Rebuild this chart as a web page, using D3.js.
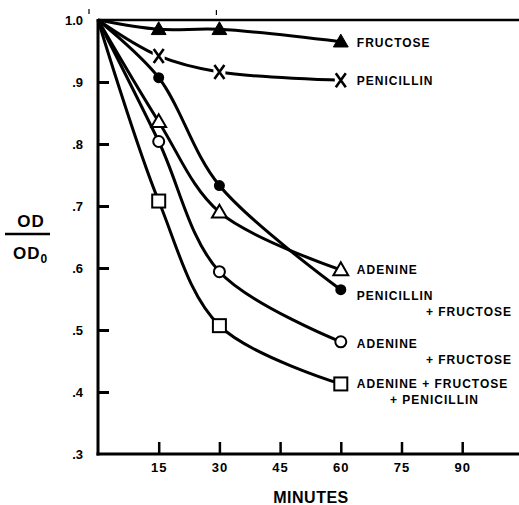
<!DOCTYPE html>
<html>
<head>
<meta charset="utf-8">
<style>
  body { margin: 0; background: #fff; }
  text { font-family: "Liberation Sans", Arial, sans-serif; font-weight: bold; fill: #000; }
  .lbl { font-size: 12px; letter-spacing: 1px; }
</style>
</head>
<body>
<div id="chart"></div>
<script src="https://d3js.org/d3.v7.min.js"></script>
<script>
// data
var minutes = [0, 15, 30, 60];
var fructose = [1.0, 0.985, 0.985, 0.965];
var penicillin = [1.0, 0.942, 0.916, 0.903];
var penicillinFructose = [1.0, 0.907, 0.733, 0.565];
var adenine = [1.0, 0.836, 0.690, 0.597];
var adenineFructose = [1.0, 0.804, 0.594, 0.481];
var adenineFructosePenicillin = [1.0, 0.708, 0.507, 0.413];

var xTicks = [15, 30, 45, 60, 75, 90];
var yTicks = [0.3, 0.4, 0.5, 0.6, 0.7, 0.8, 0.9, 1.0];

var series = [
  {values: fructose, marker: "triFilled", label: ["FRUCTOSE"]},
  {values: penicillin, marker: "x", label: ["PENICILLIN"]},
  {values: adenine, marker: "triOpen", label: ["ADENINE"]},
  {values: penicillinFructose, marker: "dot", label: ["PENICILLIN", "+ FRUCTOSE"]},
  {values: adenineFructose, marker: "circle", label: ["ADENINE", "+ FRUCTOSE"]},
  {values: adenineFructosePenicillin, marker: "square", label: ["ADENINE + FRUCTOSE", "+ PENICILLIN"]}
];
// label nudges (layout only)
var labelDy = [5, 5, 4, 10, 6, 4];

var width = 519, height = 505;
var svg = d3.select("#chart").append("svg")
    .attr("width", width).attr("height", height);

var x = d3.scaleLinear().domain([0, 15]).range([98, 158.7]);
var y = d3.scaleLinear().domain([0.3, 1.0]).range([454, 20]);

// frame lines
svg.append("line").attr("x1", x(0)).attr("x2", width).attr("y1", y(1)).attr("y2", y(1))
  .attr("stroke", "#000").attr("stroke-width", 2.5);
svg.append("line").attr("x1", x(0)).attr("x2", x(0)).attr("y1", y(1) - 1).attr("y2", y(0.3) + 1.5)
  .attr("stroke", "#000").attr("stroke-width", 3);
svg.append("line").attr("x1", x(0) - 1.5).attr("x2", width).attr("y1", y(0.3)).attr("y2", y(0.3))
  .attr("stroke", "#000").attr("stroke-width", 3);
// small stray marks above the top line
svg.append("line").attr("x1", x(30) - 3).attr("x2", x(30) - 3).attr("y1", 10).attr("y2", 15)
  .attr("stroke", "#000").attr("stroke-width", 1.2);
svg.append("line").attr("x1", 89).attr("x2", 89).attr("y1", 9).attr("y2", 14)
  .attr("stroke", "#000").attr("stroke-width", 1.2);

var yAxis = svg.append("g")
  .attr("transform", "translate(" + x(0) + ",0)")
  .call(d3.axisLeft(y).tickValues(yTicks).tickSize(-11).tickPadding(15)
    .tickFormat(function(d) { return d === 1 ? "1.0" : d3.format(".1f")(d).replace(/^0/, ""); }));
yAxis.select(".domain").remove();
yAxis.selectAll("line").attr("stroke-width", 3).filter(function(d) { return d === 1 || d === 0.3; }).remove();
yAxis.selectAll("text").style("font-size", "13px").attr("font-family", null).attr("font-size", null);

var xAxis = svg.append("g")
  .attr("transform", "translate(0," + y(0.3) + ")")
  .call(d3.axisBottom(x).tickValues(xTicks).tickSize(-12).tickPadding(9));
xAxis.select(".domain").remove();
xAxis.selectAll("line").attr("stroke-width", 2.5);
xAxis.selectAll("text").style("font-size", "13px").style("letter-spacing", "1px")
  .attr("font-family", null).attr("font-size", null);

svg.append("text").attr("x", 311).attr("y", 503).attr("text-anchor", "middle")
  .style("font-size", "16px").style("letter-spacing", "0.5px").text("MINUTES");

// y title OD / OD0
svg.append("text").attr("x", 31).attr("y", 227).attr("text-anchor", "middle")
  .style("font-size", "17px").style("letter-spacing", "1px").text("OD");
svg.append("line").attr("x1", 5).attr("x2", 50).attr("y1", 234).attr("y2", 234)
  .attr("stroke", "#000").attr("stroke-width", 2.5);
var od0 = svg.append("text").attr("x", 13).attr("y", 259).style("font-size", "17px")
  .style("letter-spacing", "1px");
od0.append("tspan").text("OD");
od0.append("tspan").attr("dy", 4).style("font-size", "12px").text("0");

var line = d3.line()
  .x(function(d, i) { return x(minutes[i]); })
  .y(function(d) { return y(d); })
  .curve(d3.curveCatmullRom.alpha(0.5));

series.forEach(function(s) {
  svg.append("path").attr("d", line(s.values))
    .attr("fill", "none").attr("stroke", "#000").attr("stroke-width", 3);
});

function drawMarker(g, kind) {
  if (kind === "triFilled" || kind === "triOpen") {
    g.append("path").attr("d", d3.symbol(d3.symbolTriangle, 95)())
      .attr("transform", "translate(0,1)")
      .attr("fill", kind === "triFilled" ? "#000" : "#fff")
      .attr("stroke", "#000").attr("stroke-width", kind === "triFilled" ? 1 : 2);
  } else if (kind === "dot") {
    g.append("circle").attr("r", 5.5).attr("fill", "#000");
  } else if (kind === "circle") {
    g.append("circle").attr("r", 5.5).attr("fill", "#fff").attr("stroke", "#000").attr("stroke-width", 2);
  } else if (kind === "square") {
    g.append("rect").attr("x", -6.5).attr("y", -6.5).attr("width", 13).attr("height", 13)
      .attr("fill", "#fff").attr("stroke", "#000").attr("stroke-width", 2);
  } else if (kind === "x") {
    g.append("rect").attr("x", -6).attr("y", -7).attr("width", 12).attr("height", 14).attr("fill", "#fff");
    g.append("path").attr("d", "M-5,-7 L5,7 M5,-7 L-5,7")
      .attr("fill", "none").attr("stroke", "#000").attr("stroke-width", 2.6);
  }
}

series.forEach(function(s, k) {
  s.values.forEach(function(v, i) {
    if (i === 0) return;
    var g = svg.append("g").attr("transform", "translate(" + x(minutes[i]) + "," + y(v) + ")");
    drawMarker(g, s.marker);
  });
  var last = s.values[s.values.length - 1];
  var ly = y(last) + labelDy[k];
  svg.append("text").attr("class", "lbl").attr("x", x(60) + 16).attr("y", ly).text(s.label[0]);
  if (s.label.length > 1) {
    var end = s.label[1] === "+ PENICILLIN";
    svg.append("text").attr("class", "lbl")
      .attr("x", end ? 390 : 512).attr("y", ly + 16)
      .attr("text-anchor", end ? "start" : "end")
      .text(s.label[1]);
  }
});
</script>
</body>
</html>
